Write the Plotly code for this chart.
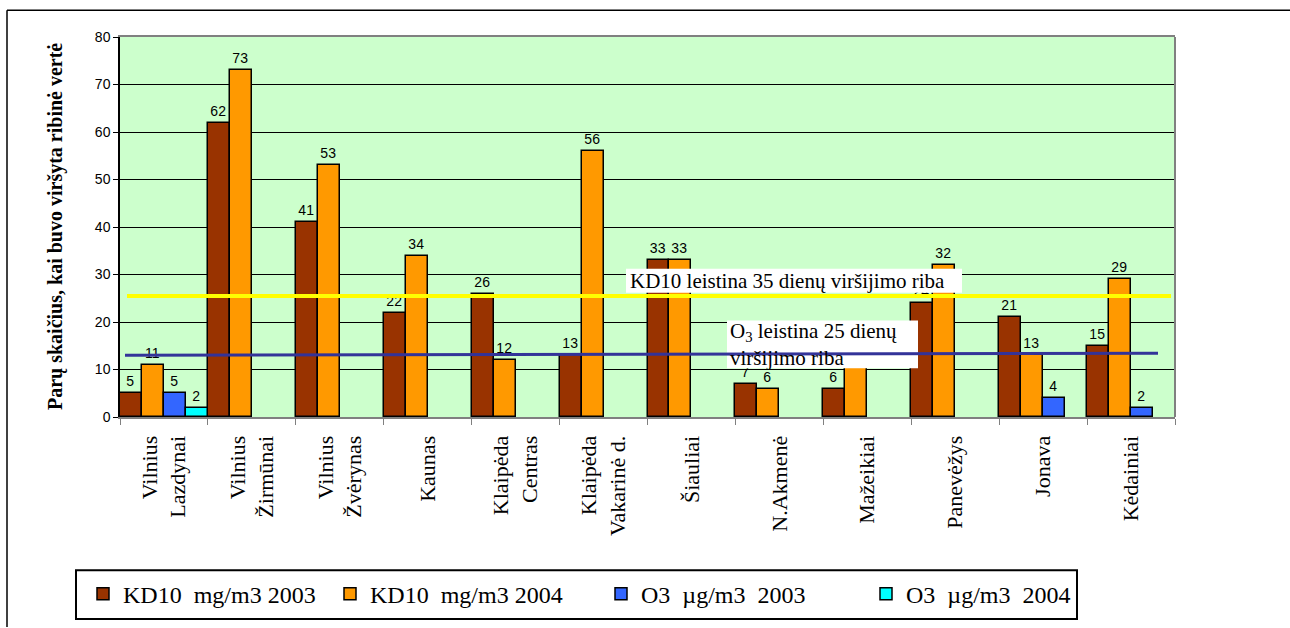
import plotly.graph_objects as go

# stations (x categories)
stations = [
    "Vilnius<br>Lazdynai", "Vilnius<br>Žirmūnai", "Vilnius<br>Žvėrynas", "Kaunas",
    "Klaipėda<br>Centras", "Klaipėda<br>Vakarinė d.", "Šiauliai", "N.Akmenė",
    "Mažeikiai", "Panevėžys", "Jonava", "Kėdainiai",
]

kd10_2003 = [5, 62, 41, 22, 26, 13, 33, 7, 6, 24, 21, 15]
kd10_2004 = [11, 73, 53, 34, 12, 56, 33, 6, 11, 32, 13, 29]
o3_2003 = [5, None, None, None, None, None, None, None, None, None, 4, 2]
o3_2004 = [2, None, None, None, None, None, None, None, None, None, None, None]

series_names = ["KD10  mg/m3 2003", "KD10  mg/m3 2004", "O3  µg/m3  2003", "O3  µg/m3  2004"]
series_colors = ["#993300", "#FF9900", "#3366FF", "#00FFFF"]

kd10_limit = [25.5, 25.5]
o3_limit = [13.0, 13.4]

SERIF = "Liberation Serif, Times New Roman, serif"
SANS = "Liberation Sans, Arial, sans-serif"

# plot area in pixels (for placing paper-referenced decorations)
L, R, T, B = 120, 1175, 37, 419


def px(x):
    return (x - L) / (R - L)


def py(y):
    return (B - y) / (B - T)


fig = go.Figure()

legend_ids = ["legend", "legend2", "legend3", "legend4"]
legend_x = [83, 330, 601, 866]

for vals, name, col, lg in zip([kd10_2003, kd10_2004, o3_2003, o3_2004],
                               series_names, series_colors, legend_ids):
    fig.add_trace(go.Bar(
        x=stations, y=vals, name=name, legend=lg,
        marker=dict(color=col, line=dict(color="black", width=1.5)),
        text=[("" if v is None else str(v)) for v in vals],
        textposition="outside",
        textfont=dict(family=SANS, size=14, color="black"),
        constraintext="none",
        cliponaxis=False,
    ))

shapes = []
# white text boxes under the threshold lines
shapes.append(dict(type="rect", xref="paper", yref="paper",
                   x0=px(626), x1=px(962), y0=py(294), y1=py(270),
                   fillcolor="white", line=dict(width=0), layer="above"))
shapes.append(dict(type="rect", xref="paper", yref="paper",
                   x0=px(727), x1=px(918), y0=py(370), y1=py(322),
                   fillcolor="white", line=dict(width=0), layer="above"))
# threshold lines
shapes.append(dict(type="line", xref="paper", yref="y",
                   x0=px(127), x1=px(1171), y0=kd10_limit[0], y1=kd10_limit[1],
                   line=dict(color="#FFFF00", width=4), layer="above"))
shapes.append(dict(type="line", xref="paper", yref="y",
                   x0=px(125), x1=px(1158), y0=o3_limit[0], y1=o3_limit[1],
                   line=dict(color="#333399", width=3), layer="above"))
# right border of plot area
shapes.append(dict(type="line", xref="paper", yref="paper",
                   x0=1, x1=1, y0=0, y1=1, line=dict(color="#808080", width=2)))
# legend frame
shapes.append(dict(type="rect", xref="paper", yref="paper",
                   x0=px(76), x1=px(1077), y0=py(622), y1=py(573),
                   line=dict(color="black", width=2), fillcolor="rgba(0,0,0,0)"))
# outer chart frame (top and left)
shapes.append(dict(type="line", xref="paper", yref="paper",
                   x0=px(7), x1=px(1292), y0=py(10), y1=py(10),
                   line=dict(color="black", width=1.5)))
shapes.append(dict(type="line", xref="paper", yref="paper",
                   x0=px(7), x1=px(7), y0=py(10), y1=py(630),
                   line=dict(color="black", width=1.5)))

annotations = [
    dict(text="KD10 leistina 35 dienų viršijimo riba", xref="paper", yref="paper",
         x=px(628), y=py(282), xanchor="left", yanchor="middle", showarrow=False,
         font=dict(family=SERIF, size=21, color="black")),
    dict(text="O<sub>3</sub> leistina 25 dienų<br>viršijimo riba", xref="paper", yref="paper",
         x=px(728), y=py(346), xanchor="left", yanchor="middle", showarrow=False,
         align="left", font=dict(family=SERIF, size=21, color="black")),
    dict(text="<b>Parų skaičius, kai buvo viršyta ribinė vertė</b>", xref="paper", yref="paper",
         x=px(55), y=0.5, xanchor="center", yanchor="middle", textangle=-90,
         showarrow=False, font=dict(family=SERIF, size=20, color="black")),
]

legend_style = dict(
    orientation="h", xref="paper", yref="paper",
    y=py(597), xanchor="left", yanchor="middle",
    font=dict(family=SERIF, size=24, color="black"),
    bgcolor="rgba(0,0,0,0)", borderwidth=0,
)

fig.update_layout(
    width=1290, height=628,
    margin=dict(l=L, r=1290 - R, t=T, b=628 - B),
    paper_bgcolor="white",
    plot_bgcolor="#CCFFCC",
    barmode="group", bargap=0, bargroupgap=0,
    shapes=shapes,
    annotations=annotations,
    showlegend=True,
)
for lg, lx in zip(legend_ids, legend_x):
    fig.update_layout({lg: dict(legend_style, x=px(lx))})

fig.update_xaxes(
    tickangle=-90, tickfont=dict(family=SERIF, size=22, color="black"),
    showline=True, linecolor="#808080", linewidth=2, mirror=True,
    ticks="outside", tickson="boundaries", ticklen=6, tickcolor="#808080",
    ticklabelstandoff=8, showgrid=False,
)
fig.update_yaxes(
    range=[0, 80], dtick=10,
    showgrid=True, gridcolor="black", gridwidth=1,
    showline=True, linecolor="black", linewidth=1.5,
    ticks="outside", ticklen=5, tickcolor="black",
    tickfont=dict(family=SANS, size=14, color="black"),
    zeroline=False,
)

fig.write_html("out.html", config={"displayModeBar": False},
               post_script="document.body.style.margin='0';document.body.style.overflow='hidden';")
